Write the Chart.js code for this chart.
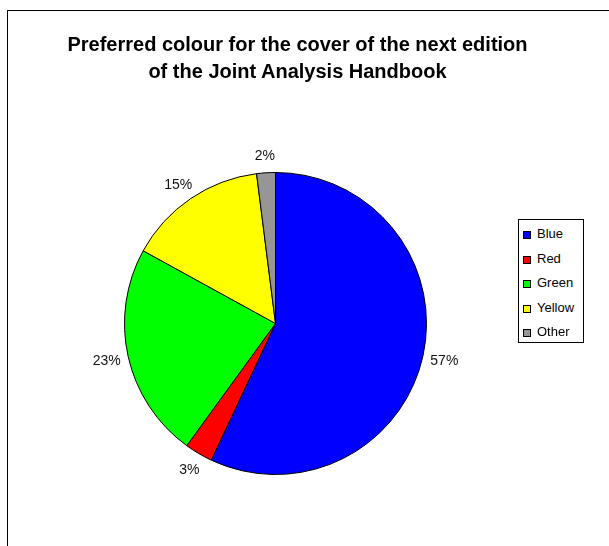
<!DOCTYPE html>
<html>
<head>
<meta charset="utf-8">
<script src="https://cdn.jsdelivr.net/npm/chart.js@4/dist/chart.umd.min.js"></script>
<style>
  html, body { margin: 0; padding: 0; background: #fff; overflow: hidden; }
  body { width: 609px; height: 546px; position: relative; font-family: Arial, "Liberation Sans", sans-serif; }
  .frame { position: absolute; left: 7px; top: 10px; width: 700px; height: 700px; border: 1.5px solid #000; }
  #pieChart { position: absolute; left: 0; top: 0; }
  .title { position: absolute; left: 0px; width: 595px; top: 31px; text-align: center;
           font-weight: bold; font-size: 20px; line-height: 27px; color: #000; }
  .legend { position: absolute; left: 518px; top: 219px; width: 66px; height: 124px;
            border: 1px solid #000; background: #fff; padding-top: 2px; box-sizing: border-box; }
  .legend-item { height: 24.6px; line-height: 24.6px; font-size: 13px; color: #000; position: relative; }
  .legend-item span.sw { position: absolute; left: 4px; top: 9px; width: 6px; height: 6px; border: 1px solid #000; }
  .legend-item span.tx { position: absolute; left: 18px; }
</style>
</head>
<body>
<div class="frame"></div>
<canvas id="pieChart" width="609" height="546"></canvas>
<div class="title">Preferred colour for the cover of the next edition<br>of the Joint Analysis Handbook</div>
<div class="legend" id="legendBox"></div>

<script>
const categories = ["Blue", "Red", "Green", "Yellow", "Other"];
const shares = [57, 3, 23, 15, 2];
const sliceColors = ["#0000ff", "#ff0000", "#00ff00", "#ffff00", "#969696"];

// Legend
const legendBox = document.getElementById("legendBox");
categories.forEach((name, i) => {
  const row = document.createElement("div");
  row.className = "legend-item";
  row.innerHTML = `<span class="sw" style="background:${sliceColors[i]}"></span><span class="tx">${name}</span>`;
  legendBox.appendChild(row);
});

// percentage labels outside the slices
const outsideLabels = {
  id: "outsideLabels",
  afterDatasetsDraw(chart) {
    const ctx = chart.ctx;
    const meta = chart.getDatasetMeta(0);
    const total = shares.reduce((a, b) => a + b, 0);
    ctx.save();
    ctx.font = "14px Arial, 'Liberation Sans', sans-serif";
    ctx.fillStyle = "#111";
    ctx.textAlign = "center";
    ctx.textBaseline = "middle";
    meta.data.forEach((arc, i) => {
      const p = arc.getProps(["x", "y", "startAngle", "endAngle", "outerRadius"], true);
      const mid = (p.startAngle + p.endAngle) / 2;
      const txt = Math.round(shares[i] / total * 100) + "%";
      const w = ctx.measureText(txt).width;
      const h = 20;
      const r = p.outerRadius + 8;
      const x = p.x + Math.cos(mid) * r + Math.cos(mid) * w / 2;
      const y = p.y + Math.sin(mid) * r + Math.sin(mid) * h / 2 + 1;
      ctx.fillText(txt, x, y);
    });
    ctx.restore();
  }
};

new Chart(document.getElementById("pieChart"), {
  type: "pie",
  data: {
    labels: categories,
    datasets: [
      {
        data: shares,
        backgroundColor: sliceColors,
        borderColor: "#000",
        borderWidth: 1,
      },
    ],
  },
  options: {
    responsive: false,
    animation: false,
    layout: { padding: { left: 124, right: 182, top: 172, bottom: 71 } },
    plugins: {
      legend: { display: false },
      title: { display: false },
      tooltip: { enabled: false },
    },
  },
  plugins: [outsideLabels],
});
</script>
</body>
</html>
